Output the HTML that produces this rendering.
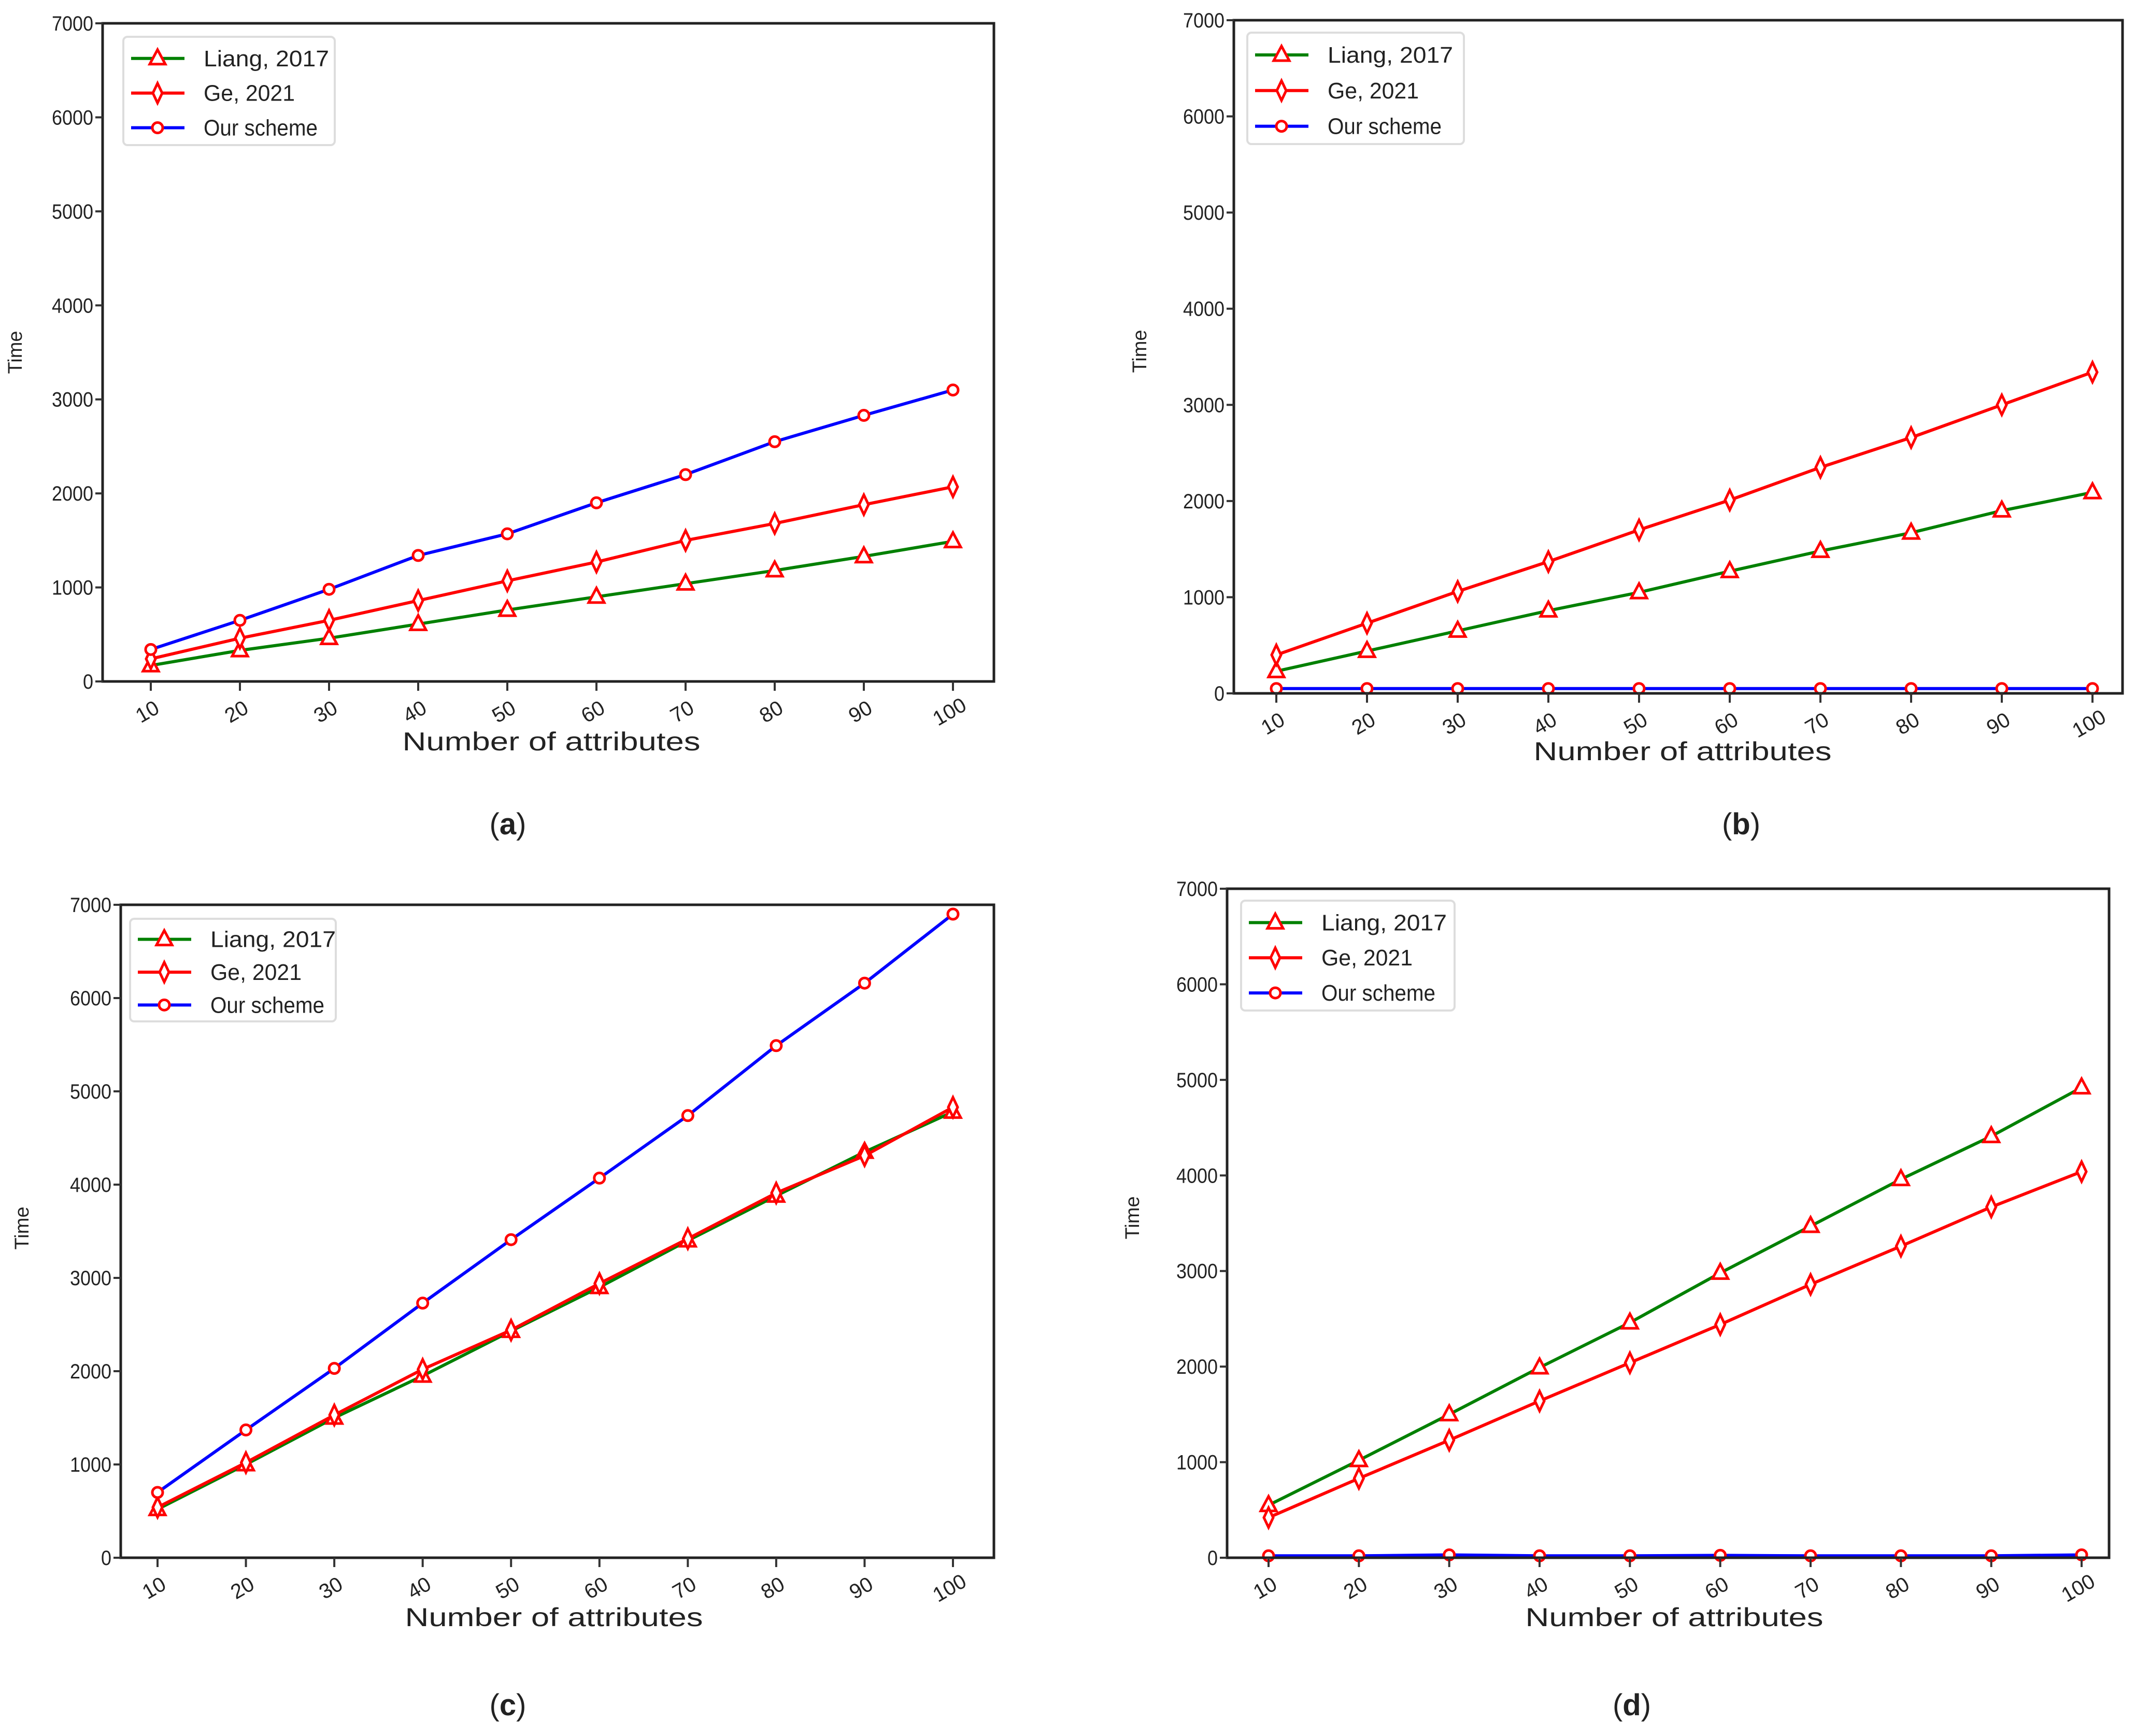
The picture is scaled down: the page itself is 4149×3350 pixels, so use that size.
<!DOCTYPE html>
<html><head><meta charset="utf-8"><style>
html,body{margin:0;padding:0;background:#fff;}
svg{display:block;}
text{font-family:"Liberation Sans","DejaVu Sans",sans-serif;fill:#222;}
</style></head><body>
<svg id="fig" width="4149" height="3350" viewBox="0 0 4149 3350" xmlns="http://www.w3.org/2000/svg"></svg>
<script>
const xCategories=[10,20,30,40,50,60,70,80,90,100];
const yTicks=[0,1000,2000,3000,4000,5000,6000,7000];
const seriesNames=["Liang, 2017","Ge, 2021","Our scheme"];
const aLiang=[170,330,460,610,760,900,1040,1180,1330,1490];
const aGe=[240,460,650,860,1070,1270,1500,1680,1880,2070];
const aOur=[340,650,980,1340,1570,1900,2200,2550,2830,3100];
const bLiang=[230,440,650,860,1050,1270,1480,1670,1900,2090];
const bGe=[400,730,1060,1370,1700,2010,2350,2660,3000,3340];
const bOur=[50,50,50,50,50,50,50,50,50,50];
const cLiang=[520,1000,1500,1950,2430,2900,3400,3880,4350,4780];
const cGe=[540,1020,1530,2020,2440,2940,3420,3910,4310,4830];
const cOur=[700,1370,2030,2730,3410,4070,4740,5490,6160,6900];
const dLiang=[550,1020,1500,1990,2460,2980,3470,3960,4410,4920];
const dGe=[420,830,1230,1640,2040,2440,2860,3260,3670,4040];
const dOur=[20,20,30,20,20,25,20,20,20,30];
const captions=["(a)","(b)","(c)","(d)"];

const panels=[
 {id:"a",L:198,R:1918,T:45,B:1315,x0:291,x1:1839,lg:[238,71,408,209],cap:[980,1610],xl:[1064,1448],yl:[42,680],s:[aLiang,aGe,aOur]},
 {id:"b",L:2381,R:4096,T:39,B:1338,x0:2463,x1:4038,lg:[2407,63,418,215],cap:[3360,1610],xl:[3247,1467],yl:[2212,678],s:[bLiang,bGe,bOur]},
 {id:"c",L:233,R:1918,T:1746,B:3006,x0:304,x1:1839,lg:[251,1773,397,198],cap:[980,3310],xl:[1069,3138],yl:[55,2370],s:[cLiang,cGe,cOur]},
 {id:"d",L:2368,R:4070,T:1715,B:3006,x0:2448,x1:4017,lg:[2395,1738,412,212],cap:[3149,3310],xl:[3231,3138],yl:[2198,2350],s:[dLiang,dGe,dOur]}
];
const colors=["#008000","#ff0000","#0000ff"];
const NS="http://www.w3.org/2000/svg";
const svg=document.getElementById("fig");
function mk(tag,attrs,parent){const e=document.createElementNS(NS,tag);for(const k in attrs)e.setAttribute(k,attrs[k]);(parent||svg).appendChild(e);return e;}
function marker(kind,x,y,g){
 const st={fill:"#fff",stroke:"#ff0000","stroke-width":5};
 let m;
 if(kind===0){m=mk("polygon",Object.assign({points:`${x},${y-17} ${x-15},${y+11} ${x+15},${y+11}`},st),g);}
 else if(kind===1){m=mk("polygon",Object.assign({points:`${x},${y-19} ${x+9},${y} ${x},${y+19} ${x-9},${y}`},st),g);}
 else{m=mk("circle",Object.assign({cx:x,cy:y,r:10},st),g);}
 return m;
}
panels.forEach(p=>{
 const g=mk("g",{});
 
 
 const xs=i=>p.x0+(p.x1-p.x0)*(xCategories[i]-xCategories[0])/(xCategories[xCategories.length-1]-xCategories[0]);
 const ys=v=>p.B-(p.B-p.T)*v/7000;
 p.s.forEach((arr,si)=>{
  const sg=mk("g",{},g);
  
  
  const pts=arr.map((v,i)=>xs(i)+","+ys(v)).join(" ");
  mk("polyline",{points:pts,fill:"none",stroke:colors[si],"stroke-width":6,"stroke-linejoin":"round"},sg);
  arr.forEach((v,i)=>{const m=marker(si,xs(i),ys(v),sg);
   
   });
 });
 const fr=mk("rect",{x:p.L,y:p.T,width:p.R-p.L,height:p.B-p.T,fill:"none",stroke:"#222","stroke-width":5},g);
 
 
 yTicks.forEach(v=>{
  mk("line",{x1:p.L-14,x2:p.L,y1:ys(v),y2:ys(v),stroke:"#333","stroke-width":4},g);
  const t=mk("text",{x:p.L-18,y:ys(v)+14,"text-anchor":"end","font-size":40,textLength:String(v).length*20,lengthAdjust:"spacingAndGlyphs"},g);
  t.textContent=v;
  
  
 });
 xCategories.forEach((c,i)=>{
  mk("line",{x1:xs(i),x2:xs(i),y1:p.B,y2:p.B+18,stroke:"#333","stroke-width":4},g);
  const t=mk("text",{x:0,y:0,"text-anchor":"middle","font-size":40,transform:`translate(${xs(i)},${p.B+70}) rotate(-30)`},g);
  t.textContent=c;
  
  
 });
 const xt=mk("text",{x:p.xl[0],y:p.xl[1],"text-anchor":"middle","font-size":50,"font-family":"Liberation Mono, monospace",textLength:575,lengthAdjust:"spacingAndGlyphs"},g);
 xt.textContent="Number of attributes";
 
 
 const yt=mk("text",{x:0,y:0,"text-anchor":"middle","font-size":38,transform:`translate(${p.yl[0]},${p.yl[1]}) rotate(-90)`},g);
 yt.textContent="Time";
 
 
 const lg=mk("g",{},g);
 
 
 mk("rect",{x:p.lg[0],y:p.lg[1],width:p.lg[2],height:p.lg[3],rx:8,fill:"#fff",stroke:"#ddd","stroke-width":4},lg);
 seriesNames.forEach((n,si)=>{
  const yy=p.lg[1]+p.lg[3]*(0.2+0.32*si);
  const e=mk("g",{},lg);
  
  
  mk("line",{x1:p.lg[0]+15,x2:p.lg[0]+118,y1:yy,y2:yy,stroke:colors[si],"stroke-width":6},e);
  marker(si,p.lg[0]+66,yy,e);
  const t=mk("text",{x:p.lg[0]+155,y:yy+15,"font-size":44,textLength:n.length*22,lengthAdjust:"spacingAndGlyphs"},e);
  t.textContent=n;
 });
 const cp=mk("text",{x:p.cap[0],y:p.cap[1],"text-anchor":"middle","font-size":58,"font-family":"Liberation Serif, serif",fill:"#000"},svg);
 cp.innerHTML=captions[["a","b","c","d"].indexOf(p.id)].replace(/\((.)\)/,'(<tspan font-weight="bold">$1</tspan>)');
 
 
});
</script>
</body></html>
